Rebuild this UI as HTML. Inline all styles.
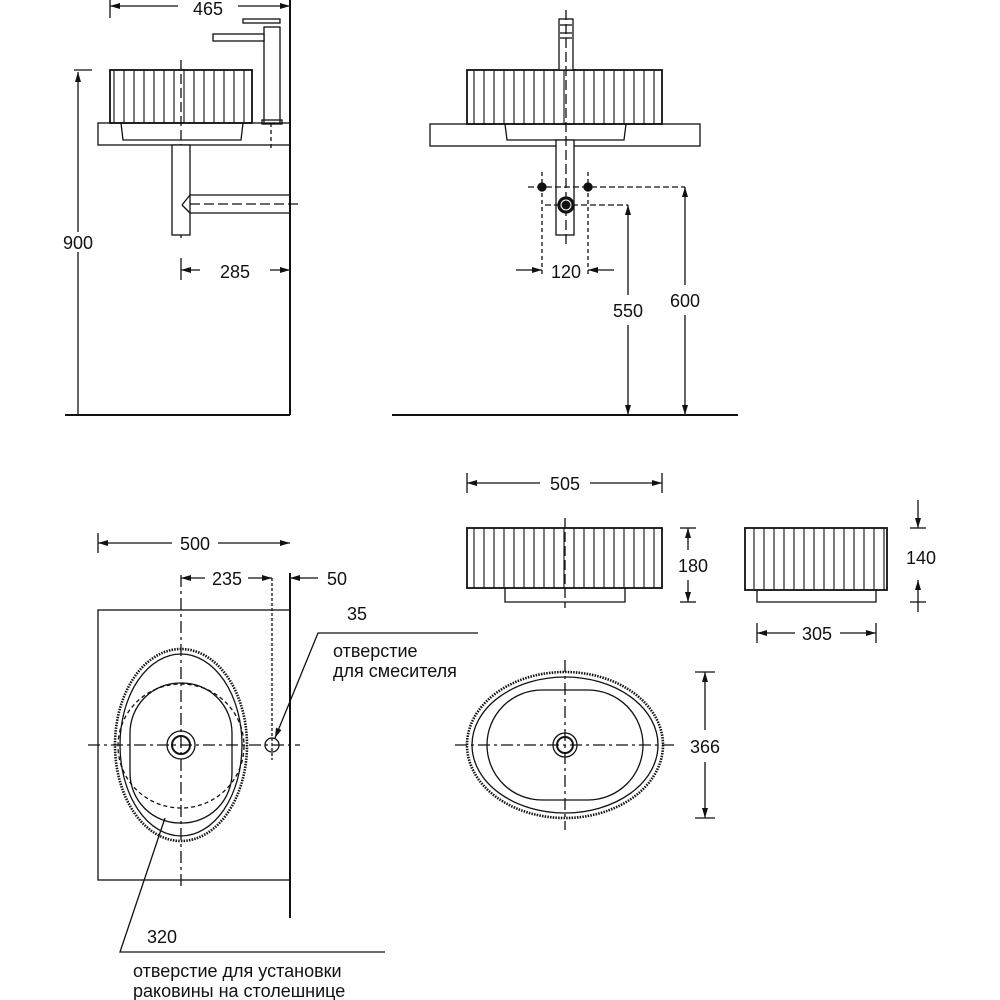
<!DOCTYPE html>
<html><head><meta charset="utf-8"><style>
html,body{margin:0;padding:0;background:#fff}
svg{display:block}
text{font-family:"Liberation Sans","DejaVu Sans",sans-serif;font-size:18px;fill:#111}
</style></head><body>
<svg width="1000" height="1000" viewBox="0 0 1000 1000" xmlns="http://www.w3.org/2000/svg">
<defs>
<pattern id="rib" x="0" y="0" width="10" height="10" patternUnits="userSpaceOnUse">
<line x1="4" y1="0" x2="4" y2="10" stroke="#222" stroke-width="1.2"/>
</pattern>
<marker id="ar" viewBox="0 0 10 10" refX="10" refY="5" markerWidth="10" markerHeight="10" orient="auto-start-reverse" markerUnits="userSpaceOnUse">
<path d="M0,2 L10,5 L0,8 z" fill="#111"/>
</marker>
</defs>
<g stroke="#111" fill="none" stroke-width="1.3">
<!-- TOP LEFT -->
<line x1="290" y1="0" x2="290" y2="415" stroke-width="2"/>
<line x1="65" y1="415" x2="290" y2="415" stroke-width="2"/>
<line x1="110" y1="6" x2="290" y2="6" marker-start="url(#ar)" marker-end="url(#ar)"/>
<line x1="110" y1="0" x2="110" y2="18"/>
<line x1="78" y1="72" x2="78" y2="415" marker-start="url(#ar)"/>
<line x1="74" y1="70" x2="92" y2="70"/>
<rect x="110" y="70" width="142" height="53" fill="url(#rib)" stroke-width="1.8"/>
<rect x="98" y="123" width="192" height="22"/>
<path d="M121,123 L123,140 L241,140 L243,123" />
<line x1="181" y1="60" x2="181" y2="240" stroke-dasharray="10,4"/>
<rect x="172" y="145" width="18" height="90" fill="#fff"/>
<path d="M190,195 L290,195 M190,213 L290,213 M182,205 L190,195 M182,205 L190,213"/>
<line x1="190" y1="204" x2="300" y2="204" stroke-dasharray="10,4"/>
<rect x="264" y="27" width="16" height="96" fill="#fff"/>
<rect x="213" y="34" width="51" height="7" fill="#fff"/>
<rect x="243" y="19" width="37" height="4" fill="#fff"/>
<rect x="262" y="120" width="20" height="4"/>
<line x1="271" y1="123" x2="271" y2="150" stroke-dasharray="4,3"/>
<line x1="181" y1="258" x2="181" y2="280"/>
<line x1="181" y1="270" x2="200" y2="270" marker-start="url(#ar)"/>
<line x1="270" y1="270" x2="290" y2="270" marker-end="url(#ar)"/>
<!-- TOP RIGHT -->
<line x1="392" y1="415" x2="738" y2="415" stroke-width="2"/>
<rect x="430" y="124" width="270" height="22"/>
<rect x="467" y="70" width="195" height="54" fill="url(#rib)" stroke-width="1.8"/>
<path d="M505,124 L507,140 L624,140 L626,124"/>
<rect x="559" y="19" width="14" height="51" fill="#fff"/>
<line x1="560" y1="25" x2="572" y2="25"/><line x1="560" y1="33" x2="572" y2="33"/><line x1="560" y1="38" x2="572" y2="38"/>
<rect x="556" y="140" width="18" height="95" fill="#fff"/>
<line x1="566" y1="10" x2="566" y2="245" stroke-dasharray="10,4"/>
<circle cx="566" cy="205" r="8" fill="#111"/><circle cx="566" cy="205" r="5" stroke="#fff" stroke-width="1"/>
<circle cx="542" cy="187" r="4" fill="#111"/><circle cx="588" cy="187" r="4" fill="#111"/>
<line x1="528" y1="187" x2="685" y2="187" stroke-dasharray="6,3"/>
<line x1="545" y1="205" x2="628" y2="205" stroke-dasharray="6,3"/>
<line x1="542" y1="172" x2="542" y2="275" stroke-dasharray="4,3"/>
<line x1="588" y1="172" x2="588" y2="275" stroke-dasharray="4,3"/>
<line x1="516" y1="270" x2="542" y2="270" marker-end="url(#ar)"/>
<line x1="614" y1="270" x2="588" y2="270" marker-end="url(#ar)"/>
<line x1="628" y1="205" x2="628" y2="295" marker-start="url(#ar)"/><line x1="628" y1="325" x2="628" y2="415" marker-end="url(#ar)"/>
<line x1="685" y1="187" x2="685" y2="285" marker-start="url(#ar)"/><line x1="685" y1="315" x2="685" y2="415" marker-end="url(#ar)"/>
<!-- BOTTOM LEFT -->
<line x1="98" y1="533" x2="98" y2="553"/>
<line x1="98" y1="543" x2="290" y2="543" marker-start="url(#ar)" marker-end="url(#ar)"/>
<line x1="290" y1="573" x2="290" y2="918" stroke-width="2"/>
<rect x="98" y="610" width="192" height="270"/>
<ellipse cx="181" cy="745" rx="66" ry="96" stroke-width="2.6" stroke-dasharray="1.5,1.2"/>
<ellipse cx="181" cy="745" rx="61" ry="91"/>
<rect x="130" y="683" width="102" height="140" rx="50" ry="50"/>
<ellipse cx="181" cy="746" rx="63" ry="62" stroke-dasharray="4,3"/>
<circle cx="181" cy="745" r="14"/><circle cx="181" cy="745" r="9" stroke-width="2"/>
<circle cx="272" cy="745" r="7"/>
<line x1="181" y1="575" x2="181" y2="890" stroke-dasharray="12,4,3,4"/>
<line x1="88" y1="745" x2="300" y2="745" stroke-dasharray="12,4,3,4"/>
<line x1="272" y1="578" x2="272" y2="760" stroke-dasharray="3,2"/>
<line x1="181" y1="578" x2="205" y2="578" marker-start="url(#ar)"/>
<line x1="248" y1="578" x2="272" y2="578" marker-end="url(#ar)"/>
<line x1="318" y1="578" x2="290" y2="578" marker-end="url(#ar)"/>
<polyline points="478,633 318,633 275,738" marker-end="url(#ar)"/>
<polyline points="385,952 120,952 165,818"/>
<!-- BOTTOM RIGHT -->
<line x1="467" y1="473" x2="467" y2="493"/><line x1="662" y1="473" x2="662" y2="493"/>
<line x1="467" y1="483" x2="540" y2="483" marker-start="url(#ar)"/>
<line x1="590" y1="483" x2="662" y2="483" marker-end="url(#ar)"/>
<rect x="467" y="528" width="195" height="60" fill="url(#rib)" stroke-width="1.8"/>
<path d="M505,588 L505,602 L625,602 L625,588"/>
<line x1="565" y1="518" x2="565" y2="608" stroke-dasharray="10,4"/>
<line x1="680" y1="528" x2="696" y2="528"/><line x1="680" y1="602" x2="696" y2="602"/>
<line x1="688" y1="528" x2="688" y2="550" marker-start="url(#ar)"/><line x1="688" y1="580" x2="688" y2="602" marker-end="url(#ar)"/>
<rect x="745" y="528" width="142" height="62" fill="url(#rib)" stroke-width="1.8"/>
<path d="M757,590 L757,602 L876,602 L876,590"/>
<line x1="910" y1="528" x2="926" y2="528"/><line x1="910" y1="602" x2="926" y2="602"/>
<line x1="918" y1="500" x2="918" y2="528" marker-end="url(#ar)"/><line x1="918" y1="580" x2="918" y2="602" marker-start="url(#ar)"/><line x1="918" y1="602" x2="918" y2="612"/>
<line x1="757" y1="623" x2="757" y2="643"/><line x1="876" y1="623" x2="876" y2="643"/>
<line x1="757" y1="633" x2="795" y2="633" marker-start="url(#ar)"/>
<line x1="840" y1="633" x2="876" y2="633" marker-end="url(#ar)"/>
<ellipse cx="565" cy="745" rx="98" ry="73" stroke-width="2.6" stroke-dasharray="1.5,1.2"/>
<ellipse cx="565" cy="745" rx="93" ry="68"/>
<rect x="487" y="690" width="156" height="110" rx="55" ry="55"/>
<circle cx="565" cy="745" r="12"/><circle cx="565" cy="745" r="8" stroke-width="2"/>
<line x1="565" y1="660" x2="565" y2="830" stroke-dasharray="12,4,3,4"/>
<line x1="455" y1="745" x2="675" y2="745" stroke-dasharray="12,4,3,4"/>
<line x1="695" y1="672" x2="715" y2="672"/><line x1="695" y1="818" x2="715" y2="818"/>
<line x1="705" y1="672" x2="705" y2="730" marker-start="url(#ar)"/><line x1="705" y1="762" x2="705" y2="818" marker-end="url(#ar)"/>
</g>
<g>
<rect x="178" y="0" width="60" height="14" fill="#fff"/>
<text x="208" y="15" text-anchor="middle">465</text>
<rect x="58" y="232" width="40" height="20" fill="#fff"/>
<text x="78" y="249" text-anchor="middle">900</text>
<text x="235" y="278" text-anchor="middle">285</text>
<text x="566" y="278" text-anchor="middle">120</text>
<rect x="608" y="298" width="40" height="22" fill="#fff"/>
<text x="628" y="317" text-anchor="middle">550</text>
<rect x="665" y="288" width="40" height="22" fill="#fff"/>
<text x="685" y="307" text-anchor="middle">600</text>
<rect x="172" y="533" width="46" height="20" fill="#fff"/>
<text x="195" y="550" text-anchor="middle">500</text>
<text x="227" y="585" text-anchor="middle">235</text>
<text x="337" y="585" text-anchor="middle">50</text>
<text x="357" y="620" text-anchor="middle">35</text>
<text x="333" y="657">отверстие</text>
<text x="333" y="677">для смесителя</text>
<text x="147" y="943">320</text>
<text x="133" y="977">отверстие для установки</text>
<text x="133" y="997">раковины на столешнице</text>
<text x="565" y="490" text-anchor="middle">505</text>
<text x="693" y="572" text-anchor="middle">180</text>
<text x="921" y="564" text-anchor="middle">140</text>
<text x="817" y="640" text-anchor="middle">305</text>
<text x="705" y="753" text-anchor="middle">366</text>
</g>
</svg>
</body></html>
